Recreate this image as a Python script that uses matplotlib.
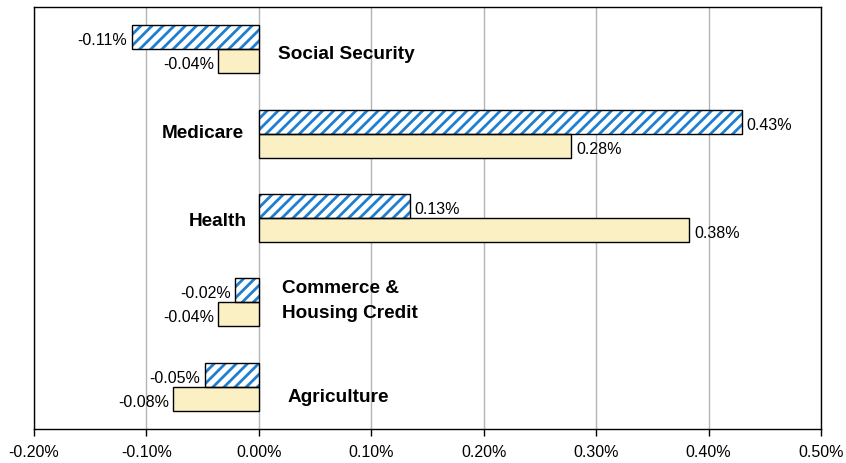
import matplotlib
matplotlib.use("Agg")
import matplotlib.pyplot as plt
from matplotlib.ticker import FuncFormatter

plt.rcParams['font.family'] = ['Liberation Sans', 'DejaVu Sans']
plt.rcParams['hatch.linewidth'] = 2.0

categories = ["Social Security", "Medicare", "Health", "Commerce &\nHousing Credit", "Agriculture"]
series_a = [-0.113, 0.430, 0.134, -0.021, -0.048]   # hatched blue
series_b = [-0.036, 0.278, 0.383, -0.036, -0.076]   # pale yellow
labels_a = ["-0.11%", "0.43%", "0.13%", "-0.02%", "-0.05%"]
labels_b = ["-0.04%", "0.28%", "0.38%", "-0.04%", "-0.08%"]
xticks = [-0.2, -0.1, 0.0, 0.1, 0.2, 0.3, 0.4, 0.5]

fig = plt.figure(figsize=(8.46, 4.64), dpi=100)
ax = fig.add_axes([34/846, 1 - 430/464, (821-34)/846, (430-8)/464])

h = 0.285
ys = list(range(len(categories)))
ya = [y - h/2 for y in ys]
yb = [y + h/2 for y in ys]

ax.barh(ya, series_a, height=h, color='white', edgecolor='#1e7fd0', hatch='///', linewidth=0, zorder=3)
ax.barh(ya, series_a, height=h, fill=False, edgecolor='black', linewidth=1.0, zorder=4)
ax.barh(yb, series_b, height=h, color='#faf0c4', edgecolor='black', linewidth=1.0, zorder=3)

tdy = 0.03
for y, v, t in zip(ya, series_a, labels_a):
    off = 0.004 if v >= 0 else -0.004
    ax.text(v + off, y + tdy, t, ha='left' if v >= 0 else 'right', va='center', fontsize=11.5, zorder=5)
for y, v, t in zip(yb, series_b, labels_b):
    off = 0.004 if v >= 0 else -0.004
    ax.text(v + off, y + tdy, t, ha='left' if v >= 0 else 'right', va='center', fontsize=11.5, zorder=5)

cat_x = [0.017, -0.0133, -0.0107, 0.0205, 0.0258]
cat_dy = [0.02, -0.04, 0.0, -0.06, 0.08]
for y, cat, cx, dy in zip(ys, categories, cat_x, cat_dy):
    ax.text(cx, y + dy + tdy, cat, ha='left' if cx > 0 else 'right', va='center',
            fontsize=13.7, fontweight='bold', zorder=5, linespacing=1.65)

ax.set_xlim(-0.2, 0.5)
ax.set_ylim(len(categories) - 0.5, -0.5)
ax.set_xticks(xticks)
ax.xaxis.set_major_formatter(FuncFormatter(lambda v, p: f"{v:.2f}%"))
ax.set_yticks([])
ax.grid(axis='x', color='#b4b4b4', linewidth=1.0, zorder=0)
ax.tick_params(axis='x', direction='out', length=5, width=1, labelsize=11.5, pad=6)
for s in ax.spines.values():
    s.set_color('black')
    s.set_linewidth(1.0)

fig.savefig("out.png", dpi=100)
